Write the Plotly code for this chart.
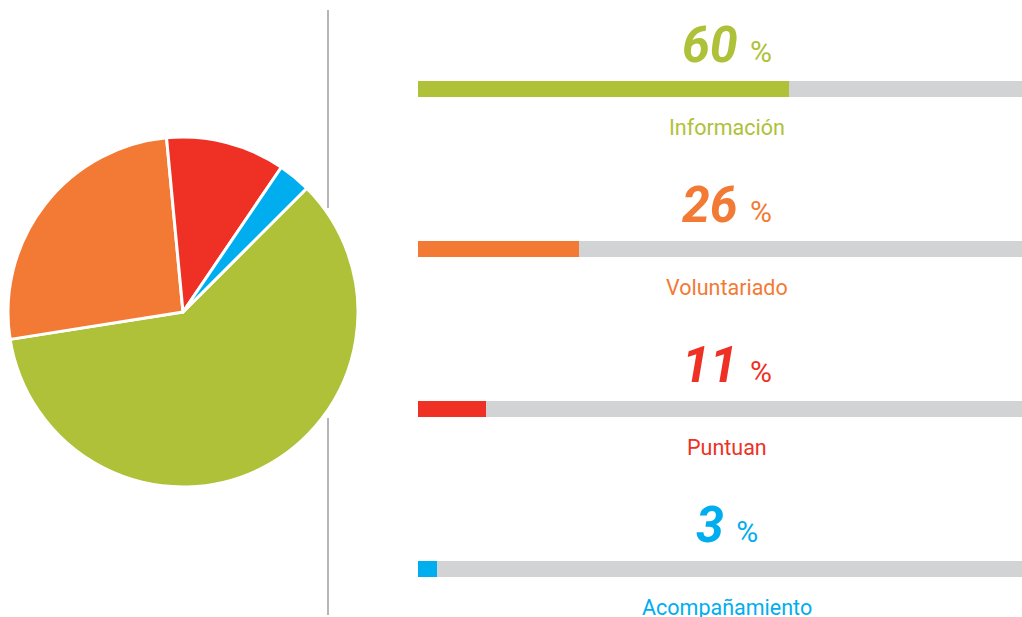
import plotly.graph_objects as go

categories = ["Información", "Voluntariado", "Puntuan", "Acompañamiento"]
values = [60, 26, 11, 3]
colors = ["#AFC138", "#F37A35", "#EE3124", "#00AEEF"]
track_color = "#D1D3D4"
track_max = 100

W, H = 1022, 617
FONT = "Roboto"

fig = go.Figure()

# Pie on the left
fig.add_trace(go.Pie(
    labels=categories, values=values, sort=False, direction="clockwise",
    rotation=45, textinfo="none", hoverinfo="label+percent",
    marker=dict(colors=colors, line=dict(color="white", width=3)),
    domain=dict(x=[8 / W, 358 / W], y=[1 - 487 / H, 1 - 137 / H]),
    showlegend=False,
))

# Track bars
fig.add_trace(go.Bar(
    y=categories, x=[track_max] * len(categories), orientation="h",
    marker=dict(color=track_color, line=dict(width=0)), width=0.1,
    hoverinfo="skip", showlegend=False,
))
# Value bars
fig.add_trace(go.Bar(
    y=categories, x=values, orientation="h",
    marker=dict(color=colors, line=dict(width=0)), width=0.1,
    showlegend=False,
))

annotations = []
for cat, v, c in zip(categories, values, colors):
    annotations.append(dict(
        x=track_max / 2, y=cat, xref="x", yref="y",
        text=f"<b><i>{v}</i></b> <span style='font-size:30px'>%</span>",
        font=dict(family=FONT, size=50, color=c),
        showarrow=False, yanchor="middle", yshift=44,
    ))
    annotations.append(dict(
        x=track_max / 2, y=cat, xref="x", yref="y",
        text=cat, font=dict(family=FONT, size=21.5, color=c),
        showarrow=False, yanchor="middle", yshift=-38,
    ))

shapes = [
    dict(type="line", xref="paper", yref="paper", x0=328 / W, x1=328 / W,
         y0=1 - 10 / H, y1=1 - 208 / H, line=dict(color="#9E9E9E", width=1.5)),
    dict(type="line", xref="paper", yref="paper", x0=328 / W, x1=328 / W,
         y0=1 - 418 / H, y1=1 - 615 / H, line=dict(color="#9E9E9E", width=1.5)),
]

fig.update_layout(
    width=W, height=H, margin=dict(l=0, r=0, t=0, b=0),
    paper_bgcolor="white", plot_bgcolor="white",
    barmode="overlay", bargap=0,
    xaxis=dict(domain=[418 / W, 1], range=[0, 97.7], visible=False, fixedrange=True),
    yaxis=dict(type="category", categoryorder="array", categoryarray=categories,
               range=[(H - 89) / 160, -89 / 160], visible=False, fixedrange=True),
    annotations=annotations, shapes=shapes,
    font=dict(family=FONT),
)

fig.write_html(
    "out.html",
    config={"displayModeBar": False},
    post_script="document.body.style.margin='0';document.body.style.overflow='hidden';",
)
